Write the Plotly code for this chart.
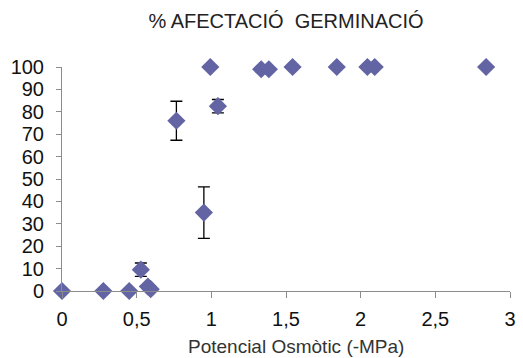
import plotly.graph_objects as go

# Osmotic potential (-MPa) and germination effect (%)
potencial = [0.0, 0.277, 0.45, 0.528, 0.575, 0.594, 0.766, 0.95, 0.993, 1.044,
             1.334, 1.385, 1.544, 1.84, 2.045, 2.094, 2.84]
afectacio = [0.0, 0.0, 0.0, 9.5, 2.0, 0.8, 76.0, 35.0, 100.0, 82.5,
             99.0, 99.0, 100.0, 100.0, 100.0, 100.0, 100.0]
error = [0, 0, 0, 3.0, 0, 0, 8.7, 11.5, 0, 3.0,
         1.0, 1.0, 0.5, 0.5, 0.5, 0.5, 0.5]

x_ticks = [0, 0.5, 1, 1.5, 2, 2.5, 3]
y_ticks = [0, 10, 20, 30, 40, 50, 60, 70, 80, 90, 100]

fig = go.Figure(
    go.Scatter(
        x=potencial,
        y=afectacio,
        mode="markers",
        marker=dict(symbol="diamond", size=14, color="#6264A3"),
        error_y=dict(type="data", array=error, visible=True,
                     color="#000000", thickness=1.3, width=6),
        cliponaxis=False,
        showlegend=False,
    )
)

fig.update_layout(
    width=523,
    height=358,
    margin=dict(l=62, r=7, t=67, b=67),
    paper_bgcolor="white",
    plot_bgcolor="white",
    separators=", ",
    font=dict(family="Liberation Sans, Arial, sans-serif", color="#000000"),
    title=dict(
        text="% AFECTACIÓ  GERMINACIÓ",
        x=0.5, xref="paper", xanchor="center",
        y=1 - 21 / 358, yref="container", yanchor="middle",
        font=dict(size=20, color="#222222"),
    ),
    xaxis=dict(
        range=[0, 3],
        tickvals=x_ticks,
        showgrid=False,
        zeroline=False,
        showline=True,
        linecolor="#8C8C8C",
        linewidth=1,
        ticks="outside",
        ticklen=6,
        tickcolor="#8C8C8C",
        ticklabelstandoff=4,
        tickfont=dict(size=20, color="#111111"),
    ),
    yaxis=dict(
        range=[0, 100],
        tickvals=y_ticks,
        showgrid=False,
        zeroline=False,
        showline=True,
        linecolor="#8C8C8C",
        linewidth=1,
        ticks="outside",
        ticklen=5,
        tickcolor="#8C8C8C",
        ticklabelstandoff=8,
        tickfont=dict(size=20, color="#111111"),
    ),
    annotations=[
        dict(
            text="Potencial Osmòtic (-MPa)",
            xref="paper", yref="paper",
            x=(299 - 62) / 454, y=-(346 - 291) / 224,
            xanchor="center", yanchor="middle",
            showarrow=False,
            font=dict(size=19, color="#333333"),
        )
    ],
)

fig.write_html("out.html")
